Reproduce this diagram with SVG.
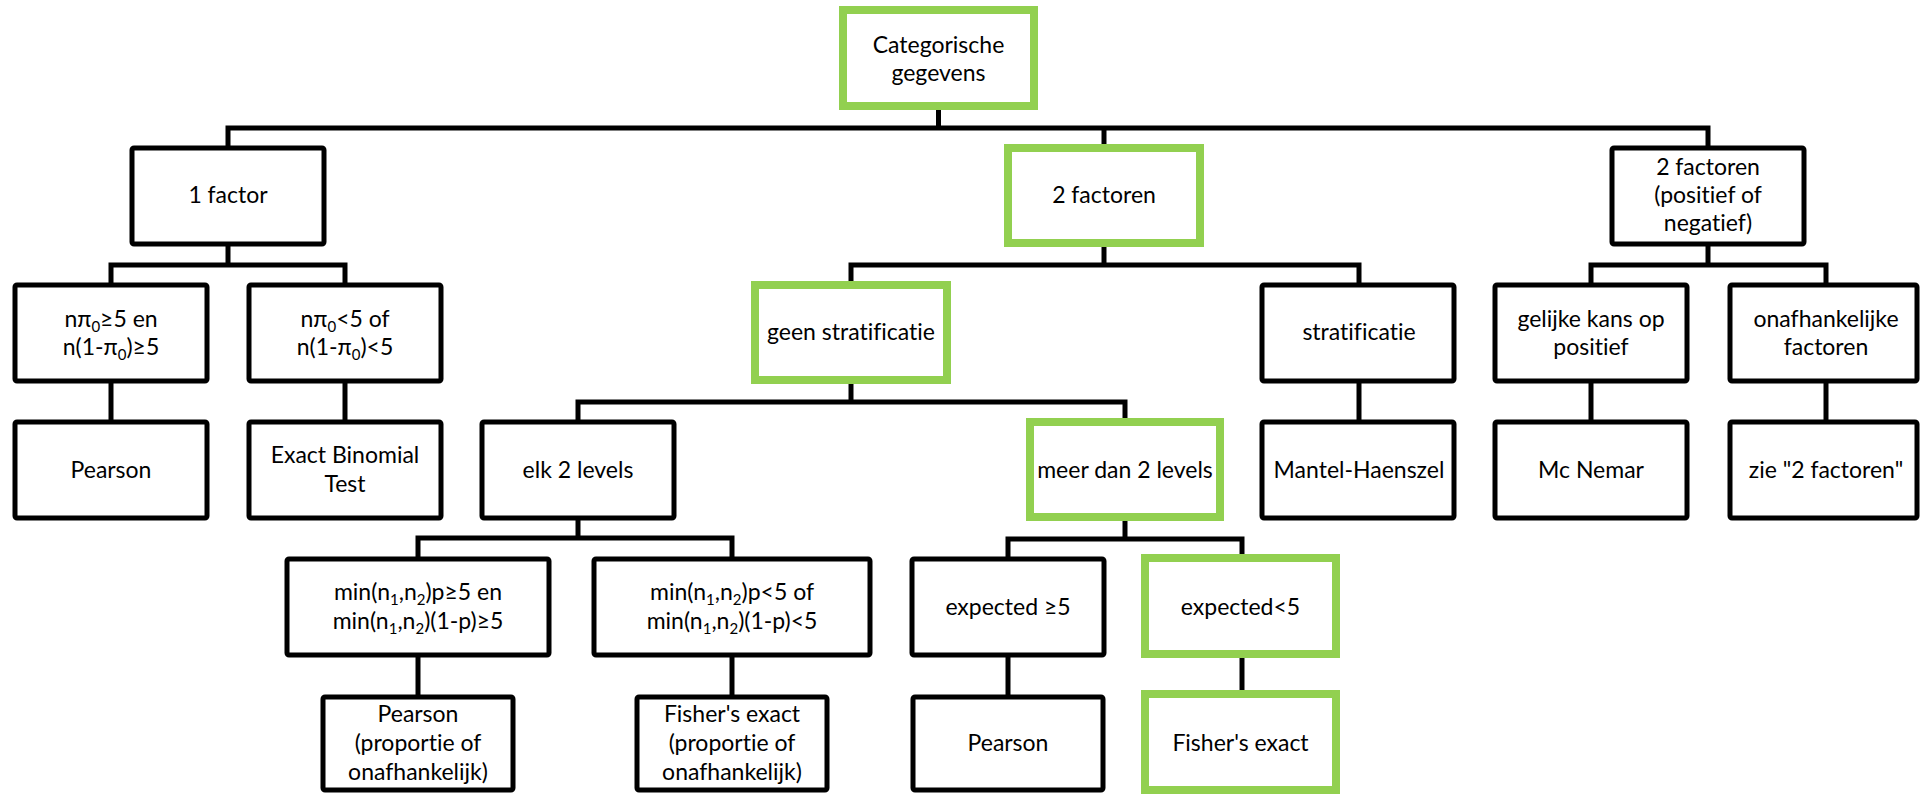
<svg xmlns="http://www.w3.org/2000/svg" width="1921" height="794" viewBox="0 0 1921 794">
<style>
.b{fill:#fff;stroke:#000;stroke-width:5}
.g{fill:#fff;stroke:#92D050;stroke-width:8}
.c{fill:none;stroke:#000;stroke-width:5;stroke-linejoin:miter;stroke-linecap:butt}
text{font-family:Lato,"Liberation Sans",sans-serif;font-size:23px;text-anchor:middle;fill:#000;font-variant-ligatures:none;font-feature-settings:"liga" 0,"clig" 0}
.s{font-size:15px}
</style>
<rect width="1921" height="794" fill="#fff"/>
<g id="connectors">
<path class="c" d="M938.5,110 V128"/>
<path class="c" d="M228,148 V128 H1708 V148"/>
<path class="c" d="M1104,128 V144"/>
<path class="c" d="M228,244 V265"/>
<path class="c" d="M111,285 V265 H345 V285"/>
<path class="c" d="M1104,247 V265"/>
<path class="c" d="M851,281 V265 H1359 V285"/>
<path class="c" d="M1708,244 V265"/>
<path class="c" d="M1591,285 V265 H1826 V285"/>
<path class="c" d="M111,381 V422"/>
<path class="c" d="M345,381 V422"/>
<path class="c" d="M851,384 V402"/>
<path class="c" d="M578,422 V402 H1125 V418"/>
<path class="c" d="M1359,381 V422"/>
<path class="c" d="M1591,381 V422"/>
<path class="c" d="M1826,381 V422"/>
<path class="c" d="M578,518 V538"/>
<path class="c" d="M418,559 V538 H732 V559"/>
<path class="c" d="M1125,521 V539"/>
<path class="c" d="M1008,559 V539 H1242 V554"/>
<path class="c" d="M418,655 V697"/>
<path class="c" d="M732,655 V697"/>
<path class="c" d="M1008,655 V697"/>
<path class="c" d="M1242,658 V690"/>
</g>
<g id="n-root"><rect class="g" x="843" y="10" width="191" height="96"/><text x="938.5" y="53">Categorische</text><text x="938.5" y="81">gegevens</text></g>
<g id="n-1factor"><rect class="b" x="132" y="148" width="192" height="96" rx="2"/><text x="228" y="203">1 factor</text></g>
<g id="n-2factoren"><rect class="g" x="1008" y="148" width="192" height="95"/><text x="1104" y="203">2 factoren</text></g>
<g id="n-2factoren-pos"><rect class="b" x="1612" y="148" width="192" height="96" rx="2"/><text x="1708" y="175">2 factoren</text><text x="1708" y="203">(positief of</text><text x="1708" y="231">negatief)</text></g>
<g id="n-npi-ge"><rect class="b" x="15" y="285" width="192" height="96" rx="2"/><text x="111" y="327">nπ<tspan class="s" dy="5">0</tspan><tspan dy="-5">≥5 en</tspan></text><text x="111" y="355">n(1-π<tspan class="s" dy="5">0</tspan><tspan dy="-5">)≥5</tspan></text></g>
<g id="n-npi-lt"><rect class="b" x="249" y="285" width="192" height="96" rx="2"/><text x="345" y="327">nπ<tspan class="s" dy="5">0</tspan><tspan dy="-5">&lt;5 of</tspan></text><text x="345" y="355">n(1-π<tspan class="s" dy="5">0</tspan><tspan dy="-5">)&lt;5</tspan></text></g>
<g id="n-geen-strat"><rect class="g" x="755" y="285" width="192" height="95"/><text x="851" y="340">geen stratificatie</text></g>
<g id="n-strat"><rect class="b" x="1262" y="285" width="192" height="96" rx="2"/><text x="1359" y="340">stratificatie</text></g>
<g id="n-gelijke"><rect class="b" x="1495" y="285" width="192" height="96" rx="2"/><text x="1591" y="327">gelijke kans op</text><text x="1591" y="355">positief</text></g>
<g id="n-onafh"><rect class="b" x="1730" y="285" width="187" height="96" rx="2"/><text x="1826" y="327">onafhankelijke</text><text x="1826" y="355">factoren</text></g>
<g id="n-pearson1"><rect class="b" x="15" y="422" width="192" height="96" rx="2"/><text x="111" y="478">Pearson</text></g>
<g id="n-binomial"><rect class="b" x="249" y="422" width="192" height="96" rx="2"/><text x="345" y="463">Exact Binomial</text><text x="345" y="492">Test</text></g>
<g id="n-elk2"><rect class="b" x="482" y="422" width="192" height="96" rx="2"/><text x="578" y="478">elk 2 levels</text></g>
<g id="n-meer2"><rect class="g" x="1030" y="422" width="190" height="95"/><text x="1125" y="478">meer dan 2 levels</text></g>
<g id="n-mantel"><rect class="b" x="1262" y="422" width="192" height="96" rx="2"/><text x="1359" y="478">Mantel-Haenszel</text></g>
<g id="n-mcnemar"><rect class="b" x="1495" y="422" width="192" height="96" rx="2"/><text x="1591" y="478">Mc Nemar</text></g>
<g id="n-zie"><rect class="b" x="1730" y="422" width="187" height="96" rx="2"/><text x="1826" y="478">zie "2 factoren"</text></g>
<g id="n-min-ge"><rect class="b" x="287" y="559" width="262" height="96" rx="2"/><text x="418" y="600">min(n<tspan class="s" dy="5">1</tspan><tspan dy="-5">,n</tspan><tspan class="s" dy="5">2</tspan><tspan dy="-5">)p≥5 en</tspan></text><text x="418" y="629">min(n<tspan class="s" dy="5">1</tspan><tspan dy="-5">,n</tspan><tspan class="s" dy="5">2</tspan><tspan dy="-5">)(1-p)≥5</tspan></text></g>
<g id="n-min-lt"><rect class="b" x="594" y="559" width="276" height="96" rx="2"/><text x="732" y="600">min(n<tspan class="s" dy="5">1</tspan><tspan dy="-5">,n</tspan><tspan class="s" dy="5">2</tspan><tspan dy="-5">)p&lt;5 of</tspan></text><text x="732" y="629">min(n<tspan class="s" dy="5">1</tspan><tspan dy="-5">,n</tspan><tspan class="s" dy="5">2</tspan><tspan dy="-5">)(1-p)&lt;5</tspan></text></g>
<g id="n-exp-ge"><rect class="b" x="912" y="559" width="192" height="96" rx="2"/><text x="1008" y="615">expected ≥5</text></g>
<g id="n-exp-lt"><rect class="g" x="1145" y="558" width="191" height="96"/><text x="1240.5" y="615">expected&lt;5</text></g>
<g id="n-pearson-prop"><rect class="b" x="323" y="697" width="190" height="93" rx="2"/><text x="418" y="722">Pearson</text><text x="418" y="751">(proportie of</text><text x="418" y="780">onafhankelijk)</text></g>
<g id="n-fisher-prop"><rect class="b" x="637" y="697" width="190" height="93" rx="2"/><text x="732" y="722">Fisher's exact</text><text x="732" y="751">(proportie of</text><text x="732" y="780">onafhankelijk)</text></g>
<g id="n-pearson2"><rect class="b" x="913" y="697" width="190" height="93" rx="2"/><text x="1008" y="751">Pearson</text></g>
<g id="n-fisher"><rect class="g" x="1145" y="694" width="191" height="96"/><text x="1240.5" y="751">Fisher's exact</text></g>
</svg>
